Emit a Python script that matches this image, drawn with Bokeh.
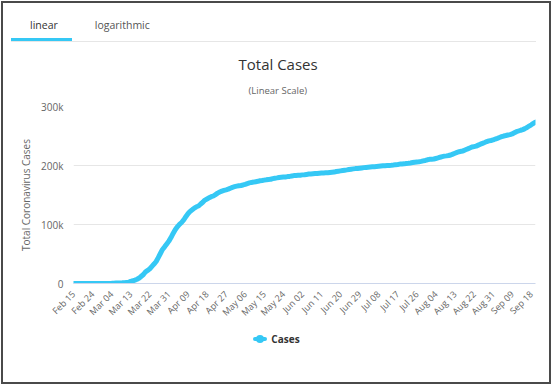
from math import pi
from bokeh.plotting import figure
from bokeh.layouts import column
from bokeh.models import ColumnDataSource, FixedTicker, Title, Div
from bokeh.embed import file_html
from bokeh.resources import INLINE

# ---- data ----
feb = [16, 16, 16, 16, 16, 16, 16, 16, 16, 16, 17, 27, 46, 48, 79]
mar = [130, 159, 196, 262, 482, 670, 799, 1040, 1176, 1457, 1908, 2078, 3675, 4585,
       5795, 7272, 9257, 12327, 15320, 19848, 22213, 24873, 29056, 32986, 37323,
       43938, 50871, 57695, 62095, 66885, 71808]
apr = [77872, 84794, 91159, 96092, 100123, 103374, 107663, 113296, 118181, 122171,
       124908, 127854, 130072, 131359, 134753, 137698, 141397, 143342, 145184, 147065,
       148291, 150648, 153129, 154999, 156513, 157770, 158758, 159912, 161539, 163009]
may = [164077, 164967, 165664, 166152, 167007, 168162, 169430, 170588, 171324, 171879,
       172576, 173171, 174098, 174478, 175233, 175752, 176369, 176551, 177778, 178473,
       179021, 179710, 179986, 180328, 180600, 181200, 181524, 182196, 182922, 183189, 183410]
jun = [183594, 184121, 184472, 184924, 185450, 185750, 186022, 186269, 186506, 186839,
       187251, 187423, 187671, 187764, 188252, 188604, 188900, 189817, 190299, 190862,
       191449, 192079, 192556, 193243, 193761, 194259, 194725, 194864, 195418, 195893]
jul = [196370, 196780, 197198, 197523, 197783, 198064, 198343, 198699, 199119, 199468,
       199726, 199919, 200180, 200456, 200890, 201450, 201823, 202345, 202572, 202799,
       203368, 203717, 204276, 204964, 205609, 205969, 206242, 206926, 207828, 208546, 209653]
aug = [210399, 210670, 211005, 211879, 212828, 213998, 215039, 215891, 216327, 216903,
       217847, 219345, 220859, 222281, 223453, 224014, 225007, 226700, 228120, 229706,
       231292, 232082, 232864, 234494, 236122, 237583, 239010, 240571, 241771, 242381, 243305]
sep = [244802, 246015, 247411, 248840, 249985, 250799, 251728, 252298, 253474, 255366,
       257234, 258480, 259735, 260817, 262507, 264375, 266869, 269000, 271400, 273600]

cases = feb + mar + apr + may + jun + jul + aug + sep
day_index = list(range(len(cases)))

tick_labels = ["Feb 15", "Feb 24", "Mar 04", "Mar 13", "Mar 22", "Mar 31", "Apr 09",
               "Apr 18", "Apr 27", "May 06", "May 15", "May 24", "Jun 02", "Jun 11",
               "Jun 20", "Jun 29", "Jul 08", "Jul 17", "Jul 26", "Aug 04", "Aug 13",
               "Aug 22", "Aug 31", "Sep 09", "Sep 18"]
tick_step = 9
y_ticks = [0, 100000, 200000, 300000]
y_tick_labels = ["0", "100k", "200k", "300k"]

title_text = "Total Cases"
subtitle_text = "(Linear Scale)"
tab_names = ["linear", "logarithmic"]
y_title = "Total Coronavirus Cases"
series_name = "Cases"

# ---- style ----
FW, FH = 548, 284
ML, MR, MT, MB = 73, 13, 64, 42
FONT = "Open Sans"
LINE_COLOR = "#35c8f5"

p = figure(width=FW, height=FH, output_backend="svg", toolbar_location=None,
           x_range=(0, len(cases) - 1), y_range=(0, 300000),
           min_border_left=ML, min_border_right=MR, min_border_top=MT,
           min_border_bottom=MB)
p.outline_line_color = None
p.border_fill_color = "white"

src = ColumnDataSource(data=dict(x=day_index, y=cases))
ln = p.line("x", "y", source=src, line_color=LINE_COLOR, line_width=5,
            line_join="round", line_cap="round")

tick_pos = [i * tick_step for i in range(len(tick_labels))]
p.xaxis.ticker = FixedTicker(ticks=tick_pos)
p.xaxis.major_label_overrides = {t: l for t, l in zip(tick_pos, tick_labels)}
p.xaxis.major_label_orientation = pi / 4
p.xaxis.axis_line_color = "#ccd6eb"
p.xaxis.major_tick_line_color = None
p.xaxis.minor_tick_line_color = None
p.xaxis.major_tick_out = 0
p.xaxis.major_tick_in = 0
p.xaxis.major_label_text_font = FONT
p.xaxis.major_label_text_font_size = "9px"
p.xaxis.major_label_text_color = "#666666"
p.xaxis.major_label_standoff = 9

p.yaxis.ticker = FixedTicker(ticks=y_ticks)
p.yaxis.major_label_overrides = {t: l for t, l in zip(y_ticks, y_tick_labels)}
p.yaxis.axis_line_color = None
p.yaxis.major_tick_line_color = None
p.yaxis.minor_tick_line_color = None
p.yaxis.major_tick_out = 0
p.yaxis.major_tick_in = 0
p.yaxis.major_label_text_font = FONT
p.yaxis.major_label_text_font_size = "10px"
p.yaxis.major_label_text_color = "#666666"
p.yaxis.major_label_standoff = 10
p.yaxis.axis_label = y_title
p.yaxis.axis_label_text_font = FONT
p.yaxis.axis_label_text_font_size = "10px"
p.yaxis.axis_label_text_font_style = "normal"
p.yaxis.axis_label_text_color = "#666666"
p.yaxis.axis_label_standoff = 5

p.xgrid.grid_line_color = None
p.ygrid.ticker = FixedTicker(ticks=y_ticks)
p.ygrid.grid_line_color = "#e6e6e6"

# titles: left-aligned within the top panel, shifted so they sit centred on the card
p.title.text = title_text
p.title.align = "left"
p.title.offset = 165
p.title.text_font = FONT
p.title.text_font_size = "15px"
p.title.text_font_style = "normal"
p.title.text_color = "#333333"
p.title.standoff = -3
p.add_layout(Title(text=subtitle_text, align="left", offset=175,
                   text_font=FONT, text_font_size="9.5px", text_font_style="normal",
                   text_color="#666666", standoff=19), "above")

# ---- header with tabs (and the outer frame of the card) ----
tab_style = (f"font-family:'{FONT}',sans-serif;font-size:10.5px;line-height:14px;"
             "border-bottom:3px solid {bc};padding:15px {pr}px 6px {pl}px;color:{c};")
tabs_html = (
    '<div style="position:fixed;left:1px;top:1px;width:550px;height:383px;z-index:10;'
    'box-sizing:border-box;border:2px solid #4a4a4a;pointer-events:none;"></div>'
    '<div style="display:flex;width:525px;margin:3px 12px 0 11px;'
    'border-bottom:1px solid #e6e6e6;">'
    f'<div style="{tab_style.format(bc=LINE_COLOR, pr=14, pl=19, c="#333333")}">{tab_names[0]}</div>'
    f'<div style="{tab_style.format(bc="transparent", pr=18, pl=23, c="#555555")}">{tab_names[1]}</div>'
    '</div>'
)
header = Div(text=tabs_html, width=FW, height=42, margin=0)

# ---- legend row ----
legend_html = (
    f'<div style="display:flex;width:{FW}px;justify-content:center;align-items:center;'
    'padding-top:6px;padding-left:5px;box-sizing:border-box;">'
    '<span style="position:relative;display:inline-block;width:14px;height:14px;">'
    f'<span style="position:absolute;left:0;top:5px;width:14px;height:4px;'
    f'border-radius:2px;background:{LINE_COLOR};"></span>'
    f'<span style="position:absolute;left:3px;top:3px;width:8px;height:8px;'
    f'border-radius:50%;background:{LINE_COLOR};"></span></span>'
    f'<span style="margin-left:4px;font-family:\'{FONT}\',sans-serif;font-size:10px;'
    f'font-weight:bold;color:#333333;line-height:14px;">{series_name}</span>'
    '</div>'
)
legend_div = Div(text=legend_html, width=FW, height=56, margin=0)

layout = column(header, p, legend_div, spacing=0)

open("out.html", "w").write(file_html(layout, INLINE))
